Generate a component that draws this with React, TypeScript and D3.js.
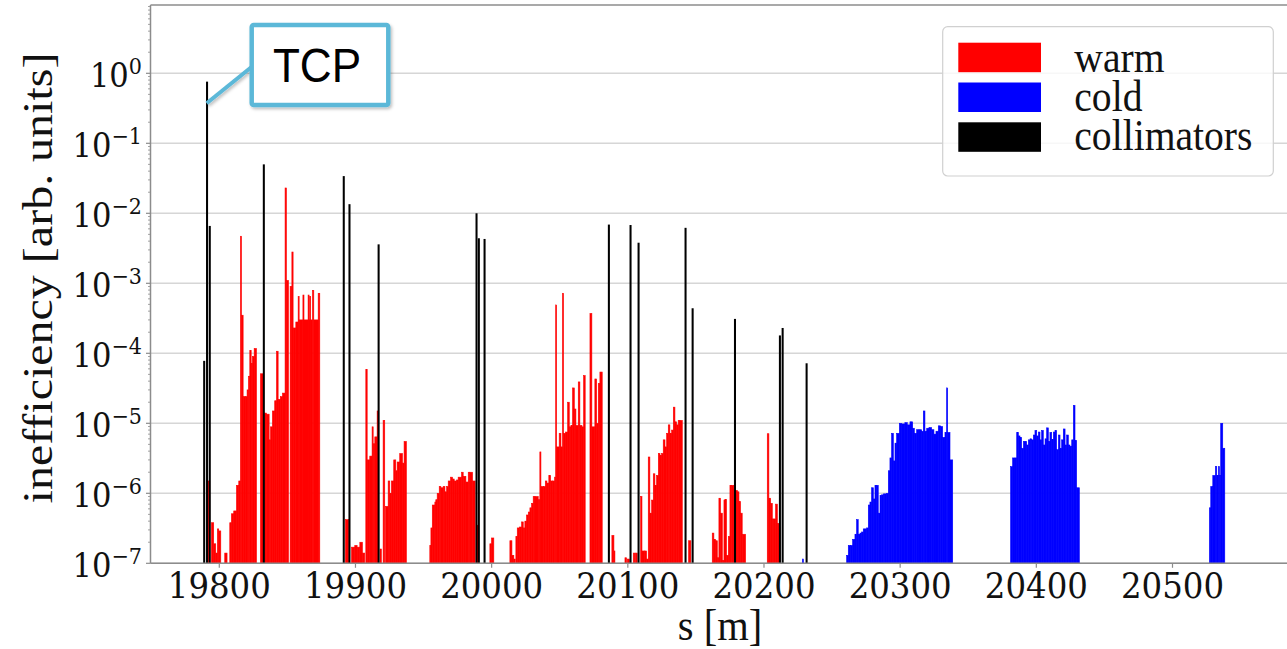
import React from "react";
import * as d3 from "d3";

// ---------------- DATA ----------------
// warm elements: [s_from, s_to, inefficiency]
const warmA: [number, number, number][] = [
  [19791.8, 19793.0, 1.5e-6], [19794.2, 19795.9, 3.8e-7], [19795.9, 19797.4, 1.9e-7],
  [19797.4, 19798.6, 1.4e-7], [19798.6, 19799.6, 3.1e-7], [19799.6, 19801.1, 2.9e-7],
  [19804.0, 19805.7, 1.4e-7], [19807.7, 19808.9, 3.8e-7], [19808.9, 19810.6, 5.1e-7],
  [19810.6, 19812.6, 5.6e-7], [19812.6, 19814.3, 1.3e-6], [19814.3, 19815.5, 1.5e-6],
  [19815.5, 19816.3, 4.7e-3], [19816.3, 19817.5, 3.5e-4], [19817.5, 19818.96, 2.4e-5],
  [19818.96, 19820.4, 2.4e-5], [19820.4, 19821.4, 3.0e-5], [19821.4, 19822.4, 4.7e-5],
  [19822.4, 19823.4, 1.1e-4], [19823.4, 19824.3, 7.2e-5], [19824.3, 19825.6, 9e-5],
  [19825.6, 19827.3, 1.17e-4], [19830.2, 19832.2, 5.1e-5], [19833.2, 19834.6, 1.4e-5],
  [19834.6, 19836.6, 1.35e-5], [19836.6, 19837.6, 5.8e-6], [19837.6, 19839.0, 8.9e-6],
  [19839.0, 19840.7, 1.5e-5], [19840.7, 19842.0, 2.1e-5], [19842.0, 19843.2, 1.07e-4],
  [19843.2, 19844.8, 2.2e-5], [19844.8, 19846.4, 2.4e-5], [19846.4, 19848.3, 2.7e-5],
  [19848.3, 19849.3, 0.023], [19849.3, 19850.8, 1.1e-3], [19852.0, 19853.3, 9e-4],
  [19853.3, 19854.2, 2.8e-3], [19854.2, 19856.2, 2.3e-4], [19856.2, 19857.9, 2.8e-4],
  [19857.9, 19858.6, 6.5e-4], [19858.6, 19861.4, 3e-4], [19861.4, 19862.2, 6.8e-4],
  [19862.2, 19865.2, 3e-4], [19865.2, 19865.9, 6.8e-4], [19865.9, 19866.4, 3e-4],
  [19866.4, 19867.0, 6.5e-4], [19867.0, 19868.4, 3e-4], [19868.4, 19869.4, 7.9e-4],
  [19869.4, 19872.6, 3e-4], [19872.6, 19873.8, 7.2e-4],
];
const warmB: [number, number, number][] = [
  [19892.6, 19895.1, 4.2e-7], [19897.1, 19899.5, 1.7e-7], [19899.5, 19901.2, 1.8e-7],
  [19901.2, 19903.2, 1.7e-7], [19903.2, 19905.1, 2e-7], [19905.1, 19906.8, 1.4e-7],
  [19907.6, 19908.6, 5.9e-5], [19908.6, 19910.5, 3e-6], [19910.5, 19912.2, 3.4e-6],
  [19912.2, 19913.0, 8.9e-6], [19913.0, 19914.2, 5.1e-6], [19914.2, 19915.9, 6.4e-6],
  [19915.9, 19916.6, 1.5e-5], [19918.0, 19919.0, 1.6e-7], [19920.3, 19921.5, 1.1e-5],
  [19922.0, 19924.0, 6.5e-7], [19924.0, 19925.2, 1.5e-6], [19925.2, 19926.4, 1e-6],
  [19926.4, 19928.1, 1.5e-6], [19928.1, 19929.6, 3e-6], [19929.6, 19930.6, 2.1e-6],
  [19930.6, 19932.5, 2.8e-6], [19932.5, 19934.5, 3.7e-6], [19934.5, 19935.7, 2.7e-6],
  [19935.7, 19937.4, 5.5e-6],
];
const warmC: [number, number, number][] = [
  [19954.6, 19955.4, 1.8e-7], [19955.4, 19956.4, 3.2e-7], [19956.4, 19958.3, 6.8e-7],
  [19958.3, 19959.0, 7.5e-7], [19959.0, 19960.0, 8.1e-7], [19960.0, 19961.5, 1e-6],
  [19961.5, 19962.7, 1.25e-6], [19962.7, 19964.4, 1.2e-6], [19964.4, 19965.7, 1.25e-6],
  [19965.7, 19966.9, 1.05e-6], [19966.9, 19968.1, 1.25e-6], [19968.1, 19969.8, 1.5e-6],
  [19969.8, 19971.3, 1.7e-6], [19971.3, 19972.5, 1.6e-6], [19972.5, 19974.2, 1.5e-6],
  [19974.2, 19975.4, 1.55e-6], [19975.4, 19977.9, 1.7e-6], [19977.9, 19979.1, 2e-6],
  [19979.1, 19981.1, 1.75e-6], [19981.1, 19982.8, 1.45e-6], [19982.8, 19984.0, 2e-6],
  [19984.0, 19986.0, 2e-6], [19986.0, 19987.9, 1.5e-6], [19989.2, 19990.0, 3.5e-7],
  [19998.7, 19999.9, 1.9e-7], [19999.9, 20001.6, 2.3e-7],
];
const warmD: [number, number, number][] = [
  [20013.4, 20014.9, 2.1e-7], [20014.9, 20016.3, 1.3e-7], [20016.3, 20017.3, 1.15e-7],
  [20017.8, 20018.8, 2.4e-7], [20018.8, 20020.3, 3.2e-7], [20020.3, 20022.0, 3.3e-7],
  [20022.0, 20023.2, 3.9e-7], [20023.2, 20024.4, 3.2e-7], [20024.4, 20025.6, 4e-7],
  [20025.6, 20026.9, 4.9e-7], [20026.9, 20028.1, 5.4e-7], [20028.1, 20029.3, 6.2e-7],
  [20029.3, 20030.5, 7.2e-7], [20030.5, 20031.8, 9e-7], [20031.8, 20034.2, 9e-7],
  [20034.2, 20035.4, 8.1e-7], [20035.4, 20036.2, 3.9e-6], [20036.2, 20037.9, 1.25e-6],
  [20037.9, 20039.4, 1.25e-6], [20039.4, 20040.6, 1.5e-6], [20040.6, 20042.0, 1.4e-6],
  [20042.0, 20043.3, 1.8e-6], [20043.3, 20044.7, 1.5e-6], [20044.7, 20046.2, 1.5e-6],
  [20046.2, 20047.0, 1.7e-6], [20047.0, 20047.7, 4.9e-4], [20047.7, 20049.6, 4.6e-6],
  [20049.6, 20050.9, 7.2e-6], [20050.9, 20052.0, 4.6e-6], [20052.0, 20052.8, 7.2e-4],
  [20052.8, 20054.3, 7.2e-6], [20054.3, 20055.8, 7.5e-6], [20055.8, 20057.0, 2e-5],
  [20057.0, 20058.2, 8.9e-6], [20058.2, 20059.4, 9.3e-6], [20059.4, 20060.7, 3.2e-5],
  [20060.7, 20061.9, 1.6e-5], [20061.9, 20063.6, 9.3e-6], [20063.6, 20064.8, 3.9e-5],
  [20064.8, 20066.3, 9.3e-6], [20066.3, 20067.5, 8.9e-6], [20067.5, 20068.7, 4.8e-5],
  [20072.2, 20073.6, 3.7e-4], [20073.6, 20075.8, 8.9e-6], [20075.8, 20077.1, 4.3e-5],
  [20077.1, 20078.3, 1e-5], [20078.3, 20079.5, 3.7e-5], [20079.5, 20081.2, 5.4e-5],
];
const warmE: [number, number, number][] = [
  [20088.3, 20089.8, 2.5e-7], [20089.8, 20090.5, 1.5e-7], [20097.9, 20099.1, 1.2e-7],
  [20099.6, 20101.1, 1.15e-7], [20104.0, 20105.2, 1.4e-7], [20105.5, 20106.9, 1.4e-7],
  [20109.4, 20110.4, 9e-7], [20110.4, 20112.1, 1.5e-7], [20112.1, 20113.8, 1.5e-7],
  [20113.8, 20115.0, 1.15e-7], [20115.0, 20116.2, 3.3e-6], [20116.2, 20117.5, 5.2e-7],
  [20117.5, 20118.7, 8e-7], [20118.7, 20119.9, 1.9e-6], [20119.9, 20121.1, 1.3e-6],
  [20121.1, 20122.4, 1.8e-6], [20122.4, 20123.6, 3.7e-6], [20123.6, 20124.8, 3.5e-6],
  [20124.8, 20126.0, 3.7e-6], [20126.0, 20127.3, 5.8e-6], [20127.3, 20128.5, 4.6e-6],
  [20128.5, 20129.7, 7.2e-6], [20129.7, 20130.9, 9.5e-6], [20130.9, 20132.2, 7.2e-6],
  [20132.2, 20133.4, 8e-6], [20133.4, 20134.6, 1.7e-5], [20134.6, 20135.8, 1.05e-5],
  [20135.8, 20137.0, 9.5e-6], [20137.0, 20138.3, 1.1e-5], [20138.3, 20140.0, 1.1e-5],
  [20144.6, 20146.3, 2.1e-7],
];
const warmF: [number, number, number][] = [
  [20162.0, 20163.2, 2.7e-7], [20163.2, 20164.5, 2.2e-7], [20164.5, 20165.7, 2.1e-7],
  [20165.7, 20166.9, 1.2e-7], [20166.9, 20168.1, 8.5e-7], [20168.1, 20169.4, 5.2e-7],
  [20169.4, 20170.6, 1.1e-7], [20170.6, 20171.3, 8e-7], [20171.3, 20172.5, 8.2e-7],
  [20172.5, 20173.8, 1.3e-7], [20173.8, 20175.0, 2.4e-7], [20175.0, 20176.2, 1.3e-6],
  [20176.2, 20177.9, 1.3e-6], [20177.9, 20179.2, 1.15e-6], [20179.2, 20180.4, 1.1e-6],
  [20180.4, 20181.6, 1.05e-6], [20181.6, 20182.8, 7.6e-7], [20182.8, 20184.0, 5.2e-7],
  [20184.0, 20186.5, 2.6e-7],
];
const warmG: [number, number, number][] = [
  [20202.4, 20203.6, 7.1e-6], [20203.6, 20204.9, 8.5e-7], [20204.9, 20206.1, 7.2e-7],
  [20206.1, 20207.3, 4.3e-7], [20207.3, 20208.5, 4.3e-7], [20208.5, 20209.8, 7e-7],
  [20209.8, 20211.0, 3.7e-7], [20211.0, 20211.7, 3.3e-7],
];

// cold elements: [s_from, s_to, inefficiency]
const coldA: [number, number, number][] = [
  [20228.2, 20228.8, 1.15e-7],
  [20260.7, 20261.9, 1.3e-7], [20261.9, 20263.6, 1.8e-7], [20263.6, 20265.1, 1.8e-7],
  [20265.1, 20266.8, 2.2e-7], [20266.8, 20268.0, 2.6e-7], [20268.0, 20269.2, 4.2e-7],
  [20269.2, 20270.5, 2.6e-7], [20270.5, 20271.7, 2.7e-7], [20271.7, 20272.9, 2.8e-7],
  [20272.9, 20274.2, 3.1e-7], [20274.2, 20275.4, 3.1e-7], [20275.4, 20276.6, 3.2e-7],
  [20276.6, 20277.8, 6.8e-7], [20277.8, 20279.0, 7.5e-7], [20279.0, 20280.3, 1.2e-6],
  [20280.3, 20281.5, 8.3e-7], [20281.5, 20282.7, 1.3e-6], [20282.7, 20283.9, 1.3e-6],
  [20283.9, 20285.2, 5.2e-7], [20285.2, 20286.4, 9.3e-7], [20286.4, 20287.6, 9.5e-7],
  [20287.6, 20288.8, 9.8e-7], [20288.8, 20290.1, 9.8e-7], [20290.1, 20291.3, 1e-6],
  [20291.3, 20292.5, 2.1e-6], [20292.5, 20293.7, 3.2e-6], [20293.7, 20295.0, 7.2e-6],
  [20295.0, 20296.2, 2.9e-6], [20296.2, 20297.4, 5.2e-6], [20297.4, 20299.4, 7.2e-6],
  [20299.4, 20301.1, 1e-5], [20301.1, 20303.5, 9.8e-6], [20303.5, 20305.2, 1.02e-5],
  [20305.2, 20307.2, 9.5e-6], [20307.2, 20309.2, 1.05e-5], [20309.2, 20310.4, 8.5e-6],
  [20310.4, 20312.1, 7.2e-6], [20312.1, 20313.8, 8.1e-6], [20313.8, 20315.8, 8.1e-6],
  [20315.8, 20317.0, 7.7e-6], [20317.0, 20318.2, 1.5e-5], [20318.2, 20319.5, 7.7e-6],
  [20319.5, 20321.2, 8.5e-6], [20321.2, 20323.1, 8.7e-6], [20323.1, 20324.8, 8.1e-6],
  [20324.8, 20326.3, 7e-6], [20326.3, 20328.0, 7.7e-6], [20328.0, 20329.7, 9.2e-6],
  [20329.7, 20331.2, 9e-6], [20331.2, 20332.9, 6.3e-6], [20332.9, 20334.1, 7.4e-6],
  [20334.1, 20334.9, 3.2e-5], [20334.9, 20336.6, 7.4e-6], [20336.6, 20338.6, 3e-6],
];
const coldB: [number, number, number][] = [
  [20381.1, 20382.6, 2.4e-6], [20382.6, 20384.3, 3.2e-6], [20384.3, 20385.6, 3.2e-6],
  [20385.6, 20386.8, 7.4e-6], [20386.8, 20388.0, 6.6e-6], [20388.0, 20389.2, 6.3e-6],
  [20389.2, 20390.5, 4.4e-6], [20390.5, 20391.7, 5.5e-6], [20391.7, 20392.9, 5.5e-6],
  [20392.9, 20394.1, 4.9e-6], [20394.1, 20395.4, 5.8e-6], [20395.4, 20396.6, 6e-6],
  [20396.6, 20397.8, 5.8e-6], [20397.8, 20399.0, 6.8e-6], [20399.0, 20400.3, 7.9e-6],
  [20400.3, 20401.5, 6.6e-6], [20401.5, 20402.7, 7.5e-6], [20402.7, 20403.9, 5.8e-6],
  [20403.9, 20405.1, 7.9e-6], [20405.1, 20406.4, 4.9e-6], [20406.4, 20407.6, 6e-6],
  [20407.6, 20408.8, 8.6e-6], [20408.8, 20410.0, 5.5e-6], [20410.0, 20411.3, 7.4e-6],
  [20411.3, 20412.5, 5.9e-6], [20412.5, 20413.7, 7.5e-6], [20413.7, 20414.9, 7.9e-6],
  [20414.9, 20416.2, 4.2e-6], [20416.2, 20417.4, 6.8e-6], [20417.4, 20418.6, 4.4e-6],
  [20418.6, 20419.8, 5.8e-6], [20419.8, 20421.1, 8.3e-6], [20421.1, 20422.3, 4.9e-6],
  [20422.3, 20423.5, 6.8e-6], [20423.5, 20424.7, 4.9e-6], [20424.7, 20426.0, 4.7e-6],
  [20426.0, 20427.2, 5.8e-6], [20427.2, 20428.4, 1.8e-5], [20428.4, 20429.6, 5.7e-6],
  [20429.6, 20431.6, 1.2e-6],
];
const coldC: [number, number, number][] = [
  [20527.1, 20528.1, 6.2e-7], [20528.1, 20529.6, 1.25e-6], [20529.6, 20531.5, 1.8e-6],
  [20531.5, 20532.5, 2.4e-6], [20532.5, 20533.7, 1.8e-6], [20533.7, 20534.5, 2.4e-6],
  [20534.5, 20535.4, 1.8e-6], [20535.4, 20536.9, 1e-5], [20536.9, 20538.4, 4.4e-6],
];

// collimators: position and inefficiency
const collS = [19788.9, 19791.0, 19793.0, 19832.7, 19891.4, 19895.6, 19917.0, 19988.9, 19990.6,
  19994.8, 20086.1, 20102.0, 20107.9, 20142.4, 20147.6, 20178.7, 20211.7, 20213.7, 20231.3];
const collV = [7.8e-5, 0.76, 6.6e-3, 0.05, 0.034, 0.0135, 3.6e-3, 0.01, 4.4e-3,
  4.3e-3, 6.9e-3, 6.8e-3, 3.8e-3, 6.2e-3, 4.4e-4, 3.1e-4, 1.8e-4, 2.3e-4, 7.2e-5];

const xTicks = [19800, 19900, 20000, 20100, 20200, 20300, 20400, 20500];
const yTickExps = [0, -1, -2, -3, -4, -5, -6, -7];
const legendLabels = ["warm", "cold", "collimators"];
const legendColors = ["#ff0000", "#0000ff", "#000000"];
const annotationText = "TCP";

// ---------------- LAYOUT ----------------
const W = 1287, H = 649;
const plotLeft = 150.5, plotTop = 5, plotBottom = 563.3, plotRight = 1295;
const SQ = 0.9; // horizontal squeeze of the original figure's text

export default function App() {
  const x = d3.scaleLinear().domain([19800, 20500]).range([219.3, 1172.5]);
  const y = d3.scaleLog().domain([1e-7, 1]).range([plotBottom, 73.3]);
  const yBase = plotBottom + 2;

  const warm = [...warmA, ...warmB, ...warmC, ...warmD, ...warmE, ...warmF, ...warmG];
  const cold = [...coldA, ...coldB, ...coldC];

  const seg = (d: [number, number, number], color: string, i: number) => {
    const x0 = x(d[0]), x1 = x(d[1]);
    const yt = y(d[2]);
    return <rect key={i} x={x0} y={yt} width={Math.max(x1 - x0, 1)} height={yBase - yt}
      fill={color} stroke={color} strokeWidth={0.6} />;
  };

  const minorTicks: number[] = [];
  for (let e = -8; e <= 0; e++) for (let m = 2; m <= 9; m++) {
    const v = m * Math.pow(10, e);
    if (y(v) >= plotTop && y(v) <= plotBottom) minorTicks.push(v);
  }
  const axisColor = "#8c8c8c";
  const collW = 1.5; // metres

  return (
    <svg width={W} height={H} style={{ position: "absolute", left: 0, top: 0, background: "#fff" }}
      xmlns="http://www.w3.org/2000/svg">
      <defs>
        <clipPath id="plotclip">
          <rect x={plotLeft} y={plotTop} width={plotRight - plotLeft} height={plotBottom - plotTop} />
        </clipPath>
        <filter id="shadow" x="-20%" y="-20%" width="140%" height="140%">
          <feDropShadow dx="1.5" dy="2" stdDeviation="1.5" floodColor="#000" floodOpacity="0.25" />
        </filter>
      </defs>
      {/* grid */}
      {yTickExps.map((e) => (
        <line key={e} x1={plotLeft} x2={plotRight} y1={y(Math.pow(10, e))} y2={y(Math.pow(10, e))}
          stroke="#d6d6d6" strokeWidth={1.5} />
      ))}
      <g clipPath="url(#plotclip)">
        {warm.map((d, i) => seg(d, "#ff0000", i))}
        {cold.map((d, i) => seg(d, "#0000ff", i))}
        {collS.map((s, i) => {
          const x0 = x(s - collW / 2), x1 = x(s + collW / 2);
          const yt = y(collV[i]);
          return <rect key={"c" + i} x={x0} y={yt} width={x1 - x0} height={yBase - yt} fill="#000" />;
        })}
      </g>
      {/* spines */}
      <line x1={plotLeft} x2={plotLeft} y1={plotTop} y2={plotBottom} stroke={axisColor} strokeWidth={1.5} />
      <line x1={plotLeft} x2={plotRight} y1={plotTop} y2={plotTop} stroke={axisColor} strokeWidth={1.5} />
      <line x1={plotLeft} x2={plotRight} y1={plotBottom} y2={plotBottom} stroke={axisColor} strokeWidth={1.5} />
      {/* y ticks */}
      {minorTicks.map((v, i) => (
        <line key={"m" + i} x1={plotLeft - 2.5} x2={plotLeft} y1={y(v)} y2={y(v)} stroke={axisColor} strokeWidth={0.8} />
      ))}
      {yTickExps.map((e) => {
        const yy = y(Math.pow(10, e));
        return (
          <g key={"yt" + e}>
            <line x1={plotLeft - 4.5} x2={plotLeft} y1={yy} y2={yy} stroke={axisColor} strokeWidth={1.2} />
            <text transform={`translate(142,${yy + 13.4}) scale(${SQ},1)`} textAnchor="end"
              fontFamily="'DejaVu Serif', serif" fontSize={34} fill="#111">
              10<tspan dy={-13} fontSize={23}>{e === 0 ? "0" : "\u2212" + Math.abs(e)}</tspan>
            </text>
          </g>
        );
      })}
      {/* x ticks */}
      {xTicks.map((t) => (
        <g key={"xt" + t}>
          <line x1={x(t)} x2={x(t)} y1={plotBottom} y2={plotBottom + 4.5} stroke={axisColor} strokeWidth={1.2} />
          <text transform={`translate(${x(t)},598.3) scale(${SQ},1)`} textAnchor="middle"
            fontFamily="'DejaVu Serif', serif" fontSize={36} fill="#111">{t}</text>
        </g>
      ))}
      {/* axis labels */}
      <text transform={`translate(720,640) scale(${SQ},1)`} textAnchor="middle"
        fontFamily="'Liberation Serif', 'Times New Roman', serif" fontSize={45} fill="#111">s [m]</text>
      <text transform={`translate(52,278) scale(${SQ},1) rotate(-90)`} textAnchor="middle"
        fontFamily="'Liberation Serif', 'Times New Roman', serif" fontSize={48} fill="#111">inefficiency [arb. units]</text>
      {/* legend */}
      <rect x={942.7} y={26.7} width={330.6} height={149.3} rx={5} fill="#fff" fillOpacity={0.8}
        stroke="#d0d0d0" strokeWidth={1.2} />
      {legendLabels.map((l, i) => (
        <g key={l}>
          <rect x={958.3} y={42.7 + i * 39.8} width={82.7} height={29.5} fill={legendColors[i]} />
          <text transform={`translate(1074.3,${71.7 + i * 39.2}) scale(${SQ},1)`}
            fontFamily="'Liberation Serif', 'Times New Roman', serif" fontSize={44} fill="#111">{l}</text>
        </g>
      ))}
      {/* TCP annotation */}
      <g filter="url(#shadow)">
        <line x1={254} x2={206.7} y1={65} y2={103.3} stroke="#5cb8d8" strokeWidth={4} />
        <rect x={251.7} y={25} width={136.6} height={80} rx={2} fill="#fff" stroke="#5cb8d8" strokeWidth={4.5} />
      </g>
      <text transform={`translate(317,81.7) scale(${SQ},1)`} textAnchor="middle"
        fontFamily="'Liberation Sans', Arial, sans-serif" fontSize={49} fill="#000">{annotationText}</text>
    </svg>
  );
}
